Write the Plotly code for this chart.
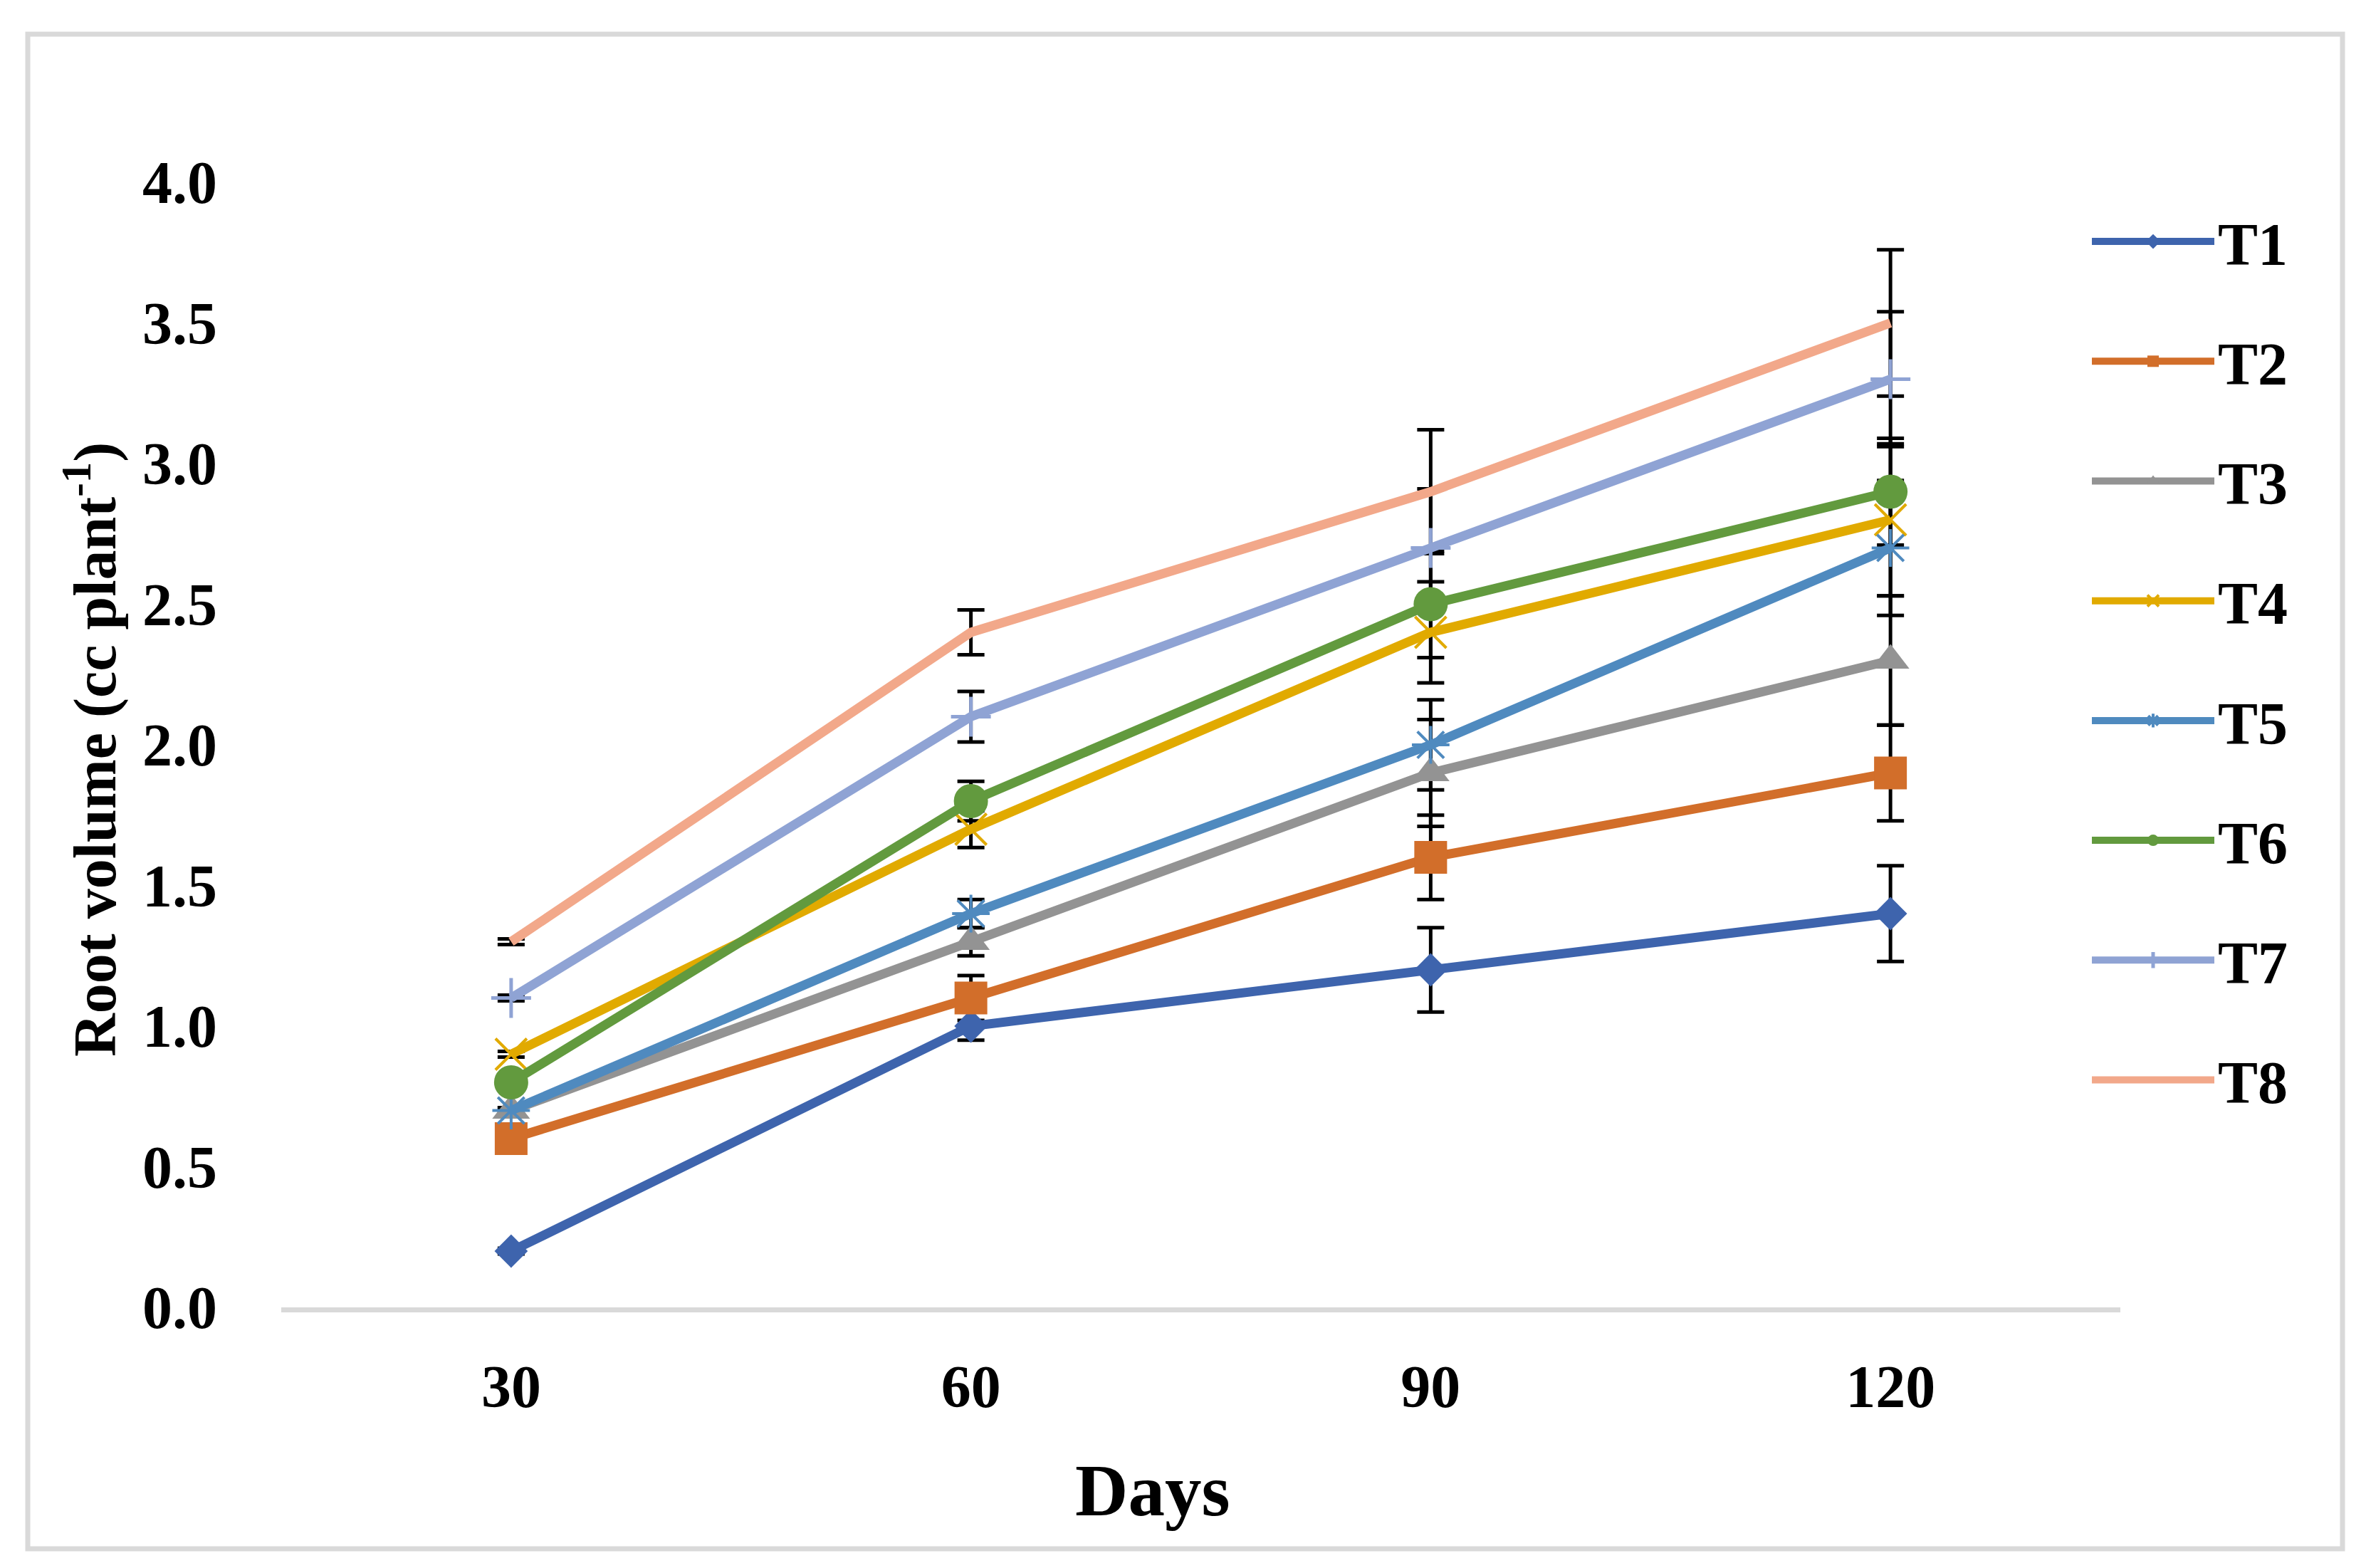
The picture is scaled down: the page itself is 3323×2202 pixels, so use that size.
import plotly.graph_objects as go

days = [30, 60, 90, 120]
tick_labels = ["30", "60", "90", "120"]
series_names = ["T1", "T2", "T3", "T4", "T5", "T6", "T7", "T8"]

T1 = [0.2, 1.0, 1.2, 1.4]
T2 = [0.6, 1.1, 1.6, 1.9]
T3 = [0.7, 1.3, 1.9, 2.3]
T4 = [0.9, 1.7, 2.4, 2.8]
T5 = [0.7, 1.4, 2.0, 2.7]
T6 = [0.8, 1.8, 2.5, 2.9]
T7 = [1.1, 2.1, 2.7, 3.3]
T8 = [1.3, 2.4, 2.9, 3.5]

E1 = [0.01, 0.05, 0.15, 0.17]
E2 = [0.01, 0.08, 0.15, 0.17]
E3 = [0.01, 0.05, 0.19, 0.23]
E4 = [0.01, 0.065, 0.18, 0.27]
E5 = [0.01, 0.05, 0.16, 0.24]
E6 = [0.01, 0.07, 0.19, 0.19]
E7 = [0.01, 0.09, 0.21, 0.24]
E8 = [0.01, 0.08, 0.22, 0.26]

values = [T1, T2, T3, T4, T5, T6, T7, T8]
errors = [E1, E2, E3, E4, E5, E6, E7, E8]

colors = ["#3E64AD", "#D26E2A", "#939393", "#E1AA00",
          "#4F8ABF", "#629A3E", "#8FA3D4", "#F2A88A"]
symbols = ["diamond", "square", "triangle-up", "x-thin-open",
           "asterisk-open", "circle", "cross-thin-open", None]
sizes = [36, 46, 46, 44, 44, 48, 40, 0]
open_widths = [0, 0, 0, 4, 4, 0, 5, 0]

FONT = "Liberation Serif"

fig = go.Figure()

# error bars first (behind lines)
for name, y, e in zip(series_names, values, errors):
    fig.add_trace(go.Scatter(
        x=days, y=y, mode="markers",
        marker=dict(size=1, color="rgba(0,0,0,0)"),
        error_y=dict(type="data", array=e, visible=True,
                     color="black", thickness=5, width=19),
        showlegend=False, hoverinfo="skip", cliponaxis=False,
    ))

for name, y, c, s, sz, ow in zip(series_names, values, colors, symbols, sizes, open_widths):
    if s is None:
        mode = "lines"
        marker = dict(color=c)
    else:
        mode = "lines+markers"
        if s.endswith("-open"):
            marker = dict(symbol=s, size=sz, color=c, line=dict(color=c, width=ow))
        else:
            marker = dict(symbol=s, size=sz, color=c, line=dict(width=0))
    fig.add_trace(go.Scatter(
        x=days, y=y, name=name, mode=mode,
        line=dict(color=c, width=13),
        marker=marker, legendgroup=name, cliponaxis=False,
    ))

W, H = 3323, 2202
L, R, T, B = 387, 2970, 248, 1828
pw, ph = R - L, B - T

def px(x):
    return (x - L) / pw

def py(y):
    return (B - y) / ph

fig.update_layout(
    width=W, height=H,
    margin=dict(l=L, r=W - R, t=T, b=H - B, pad=0),
    paper_bgcolor="white", plot_bgcolor="white",
    font=dict(family=FONT, size=84, color="black", weight="bold"),
    xaxis=dict(
        range=[15, 135], tickvals=days, ticktext=tick_labels,
        showline=True, linecolor="#D9D9D9", linewidth=7,
        showgrid=False, zeroline=False, ticks="",
        ticklabelstandoff=32,
        tickfont=dict(family=FONT, size=84, color="black", weight="bold"),
    ),
    yaxis=dict(
        range=[0, 4], dtick=0.5, tick0=0, tickformat=".1f",
        showline=False, showgrid=False, zeroline=False, ticks="",
        ticklabelstandoff=89,
        tickfont=dict(family=FONT, size=84, color="black", weight="bold"),
    ),
    legend=dict(
        x=px(2925), y=py(270), xanchor="left", yanchor="top",
        font=dict(family=FONT, size=84, color="black", weight="bold"),
        itemwidth=172, tracegroupgap=56, traceorder="grouped",
        bgcolor="rgba(0,0,0,0)", borderwidth=0,
    ),
    showlegend=True,
)

fig.add_annotation(
    text="Root volume (cc plant<sup>-1</sup>)", textangle=-90,
    xref="paper", yref="paper", x=px(120), y=py(1045),
    xanchor="center", yanchor="middle", showarrow=False,
    font=dict(family=FONT, size=84, color="black", weight="bold"),
)
fig.add_annotation(
    text="Days",
    xref="paper", yref="paper", x=px(1610), y=py(2085),
    xanchor="center", yanchor="middle", showarrow=False,
    font=dict(family=FONT, size=103, color="black", weight="bold"),
)

fig.add_shape(
    type="rect", xref="paper", yref="paper",
    x0=px(31), x1=px(3282), y0=py(2167), y1=py(40),
    line=dict(color="#D9D9D9", width=7), fillcolor="rgba(0,0,0,0)",
    layer="below",
)

fig.write_html("out.html")
